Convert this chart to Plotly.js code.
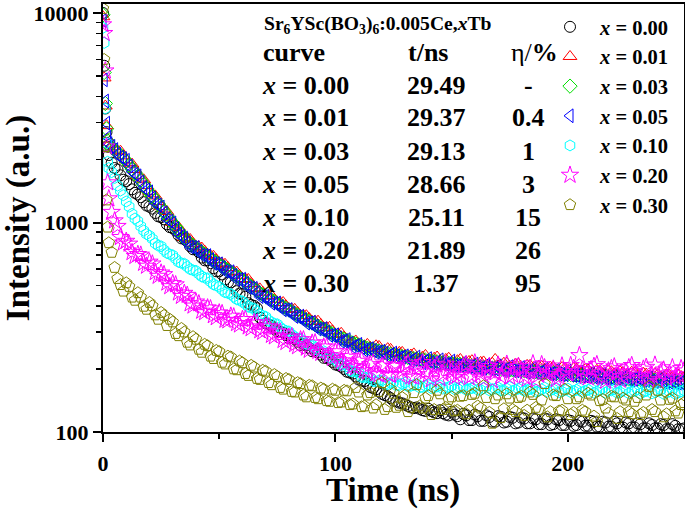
<!DOCTYPE html>
<html>
<head>
<meta charset="utf-8">
<script src="https://cdn.plot.ly/plotly-3.0.1.min.js"></script>
<style>html,body{margin:0;padding:0;background:#fff;}#chart{width:685px;height:509px;}</style>
</head>
<body>
<div id="chart"></div>
<script>
// ---------------- data ----------------
// main sampling grid
const time = [0,0.5,1,1.5,2,2.5,
  5,7.5,10,12.5,15,17.5,20,22.5,25,27.5,
  30,32.5,35,37.5,40,42.5,45,47.5,50,52.5,
  55,57.5,60,62.5,65,67.5,70,72.5,75,77.5,
  80,82.5,85,87.5,90,92.5,95,97.5,100,102.5,
  105,107.5,110,112.5,115,117.5,120,122.5,125,127.5,
  130,132.5,135,137.5,140,142.5,145,147.5,150,152.5,
  155,157.5,160,162.5,165,167.5,170,172.5,175,177.5,
  180,182.5,185,187.5,190,192.5,195,197.5,200,202.5,
  205,207.5,210,212.5,215,217.5,220,222.5,225,227.5,
  230,232.5,235,237.5,240,242.5,245,247.5,250];
// in-between samples
const timeB = [3.75,6.25,8.75,11.25,13.75,16.25,18.75,21.25,23.75,26.25,
  28.75,31.25,33.75,36.25,38.75,41.25,43.75,46.25,48.75,51.25,
  53.75,56.25,58.75,61.25,63.75,66.25,68.75,71.25,73.75,76.25,
  78.75,81.25,83.75,86.25,88.75,91.25,93.75,96.25,98.75,101.25,
  103.75,106.25,108.75,111.25,113.75,116.25,118.75,121.25,123.75,126.25,
  128.75,131.25,133.75,136.25,138.75,141.25,143.75,146.25,148.75,151.25,
  153.75,156.25,158.75,161.25,163.75,166.25,168.75,171.25,173.75,176.25,
  178.75,181.25,183.75,186.25,188.75,191.25,193.75,196.25,198.75,201.25,
  203.75,206.25,208.75,211.25,213.75,216.25,218.75,221.25,223.75,226.25,
  228.75,231.25,233.75,236.25,238.75,241.25,243.75,246.25,248.75];

const tbConc = ['0.00','0.01','0.03','0.05','0.10','0.20','0.30'];
const lifetimes = ['29.49','29.37','29.13','28.66','25.11','21.89','1.37'];
const efficiency = ['-','0.4','1','3','15','26','95'];

// x = 0.00
const i000 = [10000,5600,3500,2700,2300,2100,
  1820,1680,1575,1440,1360,1250,1190,1110,1060,980,
  940,870,835,770,745,680,660,605,585,535,
  518,470,455,412,400,352,330,322,302,298,
  280,278,260,259,243,240,226,222,210,205,
  194,190,178,175,164,160,152,148,141,138,
  135,131,131,127,129,124,127,121,125,119,
  122,114,121,113,120,112,119,111,118,110,
  117,110,116,109,116,108,115,108,114,107,
  113,107,113,106,112,106,112,105,111,105,
  110,104,110,104,109,103,109,103,104];
const i000b = [1930,1790,1600,1525,1385,1320,1205,1165,1070,1035,
  950,915,840,812,745,722,660,640,585,565,
  518,500,458,442,404,390,340,326,312,300,
  290,282,270,262,252,244,234,226,216,208,
  200,192,184,176,170,162,156,150,145,140,
  137,133,130,129,126,126,123,123,120,121,
  115,120,114,119,113,118,112,118,112,117,
  111,116,110,115,109,115,109,114,108,113,
  108,112,107,112,106,111,106,110,105,110,
  105,109,104,108,104,108,103,107,103];

// x = 0.01
const i001 = [9600,4900,3600,2900,2500,2350,
  2240,2190,1990,1900,1680,1600,1410,1340,1190,1130,
  1000,950,850,830,770,755,705,690,642,632,
  585,580,540,535,488,482,446,448,414,415,
  388,385,360,359,337,338,314,316,292,296,
  276,268,262,258,254,258,244,250,238,240,
  232,233,226,228,222,225,219,222,215,219,
  214,217,211,215,209,213,207,213,205,211,
  203,208,201,206,199,204,197,203,195,201,
  194,199,192,197,190,196,189,194,187,193,
  186,191,185,190,183,188,182,187,181];
const i001b = [2300,2200,2080,1930,1790,1630,1500,1370,1260,1160,
  1060,975,900,845,795,765,730,695,665,637,
  610,582,560,538,512,485,465,447,430,415,
  400,386,372,360,348,337,326,315,304,294,
  284,268,272,255,262,250,256,243,248,236,
  240,226,236,222,232,219,228,216,225,214,
  222,211,219,208,216,206,222,205,213,203,
  211,201,208,199,206,197,204,195,202,193,
  200,192,198,190,196,188,194,187,192,185,
  191,184,189,182,188,181,186,180,184];

// x = 0.03
const i003 = [9800,5200,3700,2800,2450,2330,
  2220,2100,1960,1800,1660,1520,1390,1280,1180,1080,
  995,915,845,795,757,722,690,660,632,605,
  580,555,533,508,484,460,443,427,411,396,
  382,368,355,343,331,320,309,299,289,281,
  273,266,260,254,249,245,241,237,234,231,
  228,225,223,221,219,217,215,213,212,210,
  209,207,206,205,203,202,201,200,198,197,
  196,195,194,193,192,191,190,189,188,187,
  187,186,185,184,183,182,182,181,180,179,
  179,178,177,177,176,175,175,174,173];
const i003b = [2280,2160,2030,1880,1730,1590,1450,1335,1230,1130,
  1035,955,880,820,776,740,706,675,646,618,
  592,567,544,520,496,472,451,435,419,403,
  389,375,361,349,337,325,314,304,294,285,
  277,270,263,257,251,247,243,239,235,232,
  229,227,224,222,220,218,216,214,213,211,
  210,208,207,206,204,203,202,201,199,198,
  197,196,195,194,193,192,191,190,189,188,
  187,186,185,184,183,182,182,181,180,179,
  179,178,177,177,176,175,175,174,173];

// x = 0.05
const i005 = [9200,4800,3800,2980,2550,2380,
  2230,2050,1980,1750,1670,1470,1400,1235,1185,1040,
  995,880,842,765,760,700,695,638,635,585,
  582,535,536,490,485,443,445,412,413,383,
  384,356,357,331,334,310,311,289,291,271,
  276,255,262,246,250,240,243,230,238,226,
  231,219,228,214,224,212,221,210,218,207,
  214,205,211,201,209,199,207,197,205,196,
  203,193,201,191,199,189,197,188,195,186,
  193,185,191,183,189,181,187,180,185,178,
  183,176,181,174,180,172,178,171,176];
const i005b = [2310,2120,2020,1860,1700,1560,1430,1310,1210,1110,
  1015,935,860,800,762,728,697,665,636,610,
  583,560,535,512,487,463,444,428,412,397,
  383,370,356,344,332,320,310,300,290,281,
  273,265,258,253,248,245,241,238,234,231,
  228,225,222,219,217,215,213,212,210,208,
  207,206,204,203,202,201,200,199,198,197,
  196,195,194,193,192,191,190,189,188,187,
  186,185,184,183,182,181,181,180,179,178,
  178,177,176,175,175,174,173,172,172];

// x = 0.10
const i010 = [8500,7200,3500,2400,1950,1820,
  1630,1420,1260,1100,1015,915,865,795,770,715,
  698,648,636,598,588,552,542,506,494,464,
  456,430,421,396,389,364,355,333,327,308,
  302,284,278,263,260,245,243,227,224,209,
  206,194,192,182,182,174,176,169,173,167,
  172,166,170,164,168,163,167,162,166,161,
  165,160,164,159,165,160,163,158,164,159,
  163,158,162,157,163,158,162,156,161,157,
  162,157,161,156,162,157,160,155,161,156,
  160,155,160,155,159,154,160,154,158];
const i010b = [1740,1500,1350,1190,1045,960,880,835,775,740,
  705,672,640,615,592,568,545,522,500,478,
  460,443,425,408,392,376,359,342,329,316,
  304,292,280,270,261,252,242,233,224,215,
  210,196,194,183,182,175,176,169,172,167,
  170,165,168,163,166,162,165,161,164,160,
  163,159,162,159,162,158,161,158,161,157,
  161,157,161,156,160,156,160,155,159,155,
  159,155,159,154,158,154,158,154,158,153,
  157,153,157,153,157,152,156,152,156];

// x = 0.20
const i020 = [8800,8000,5300,2300,1550,1300,
  1020,850,815,720,705,640,648,578,575,515,
  512,462,460,410,418,378,392,360,371,342,
  358,330,345,318,333,305,318,290,301,274,
  284,262,276,252,266,243,255,232,242,219,
  228,206,218,197,210,190,207,189,206,188,
  208,184,199,215,188,202,180,211,193,186,
  205,182,214,190,201,176,209,195,183,204,
  198,179,212,187,203,193,178,207,190,201,
  232,184,199,210,181,196,205,177,194,208,
  186,200,178,209,192,181,203,188,196];
const i020b = [1120,960,800,790,690,700,620,635,555,565,
  495,505,445,450,400,410,372,388,352,368,
  340,355,325,345,312,332,300,318,285,300,
  268,285,256,276,246,267,238,255,225,242,
  212,230,203,221,194,214,188,210,186,207,
  196,212,183,205,194,178,209,190,200,182,
  193,210,186,199,179,206,192,184,211,187,
  206,185,197,176,210,189,200,183,195,208,
  190,198,182,206,188,175,201,192,184,203,
  195,180,204,186,175,198,190,183,201];

// x = 0.30
const i030 = [10500,6000,2300,1280,950,800,
  610,505,515,440,462,398,415,362,372,322,
  335,288,300,260,277,240,258,224,242,211,
  228,198,214,186,204,178,195,168,184,160,
  178,155,170,147,166,144,160,140,158,139,
  157,136,155,133,154,135,172,132,153,134,
  150,131,168,130,149,128,152,131,147,127,
  149,127,153,130,146,110,150,129,145,125,
  148,127,151,128,170,125,149,127,144,124,
  147,125,150,112,143,123,147,125,142,122,
  146,124,165,125,142,122,145,123,138];
const i030b = [720,540,470,495,425,440,385,400,345,360,
  345,295,312,268,285,248,262,230,245,215,
  230,200,218,190,208,180,197,172,188,163,
  180,156,172,150,167,146,162,141,160,138,
  158,135,163,132,150,130,156,128,160,131,
  146,125,154,133,145,121,158,128,143,126,
  148,122,151,133,166,124,144,117,152,128,
  146,120,155,131,142,118,150,126,160,121,
  144,127,153,119,141,130,148,116,145,125,
  140,121,150,128,158,118,143,126,135];

const intensities = [i000, i001, i003, i005, i010, i020, i030];
const intensitiesB = [i000b, i001b, i003b, i005b, i010b, i020b, i030b];

// ---------------- style ----------------
const symbols = ['circle-open','triangle-up-open','diamond-open','triangle-left-open','hexagon-open','star-open','pentagon-open'];
const colors = ['#000000','#ff0000','#00e000','#0000ff','#00ffff','#ff00ff','#808000'];
const sizes = [11, 12, 11, 12, 11, 13, 12];
const FONT = 'Liberation Serif, "Times New Roman", Times, serif';

const L = 103, R = 1, T = 4, B = 77, W = 685, H = 509;
const PW = W - L - R, PH = H - T - B;
const px = v => (v - L) / PW;
const py = v => (H - B - v) / PH;

const traces = intensities.map((arr, k) => ({
  type: 'scatter', mode: 'markers',
  x: time.concat(timeB), y: arr.concat(intensitiesB[k]),
  name: '<i>x</i> = ' + tbConc[k],
  marker: {symbol: symbols[k], size: sizes[k], color: colors[k], line: {width: 1, color: colors[k]}}
}));

const ann = [];
const rowY0 = 85, rowStep = 33, headY = 52;
ann.push({text: 'Sr<sub>6</sub>YSc(BO<sub>3</sub>)<sub>6</sub>:0.005Ce,<i>x</i>Tb', x: px(262), y: py(25), xanchor: 'left', yanchor: 'middle', font: {size: 19.6}});
ann.push({text: 'curve', x: px(261), y: py(headY), xanchor: 'left', yanchor: 'middle', font: {size: 26}});
ann.push({text: 't/ns', x: px(406), y: py(headY), xanchor: 'left', yanchor: 'middle', font: {size: 26}});
ann.push({text: '<span style="font-weight:normal">η/</span>%', x: px(509), y: py(headY), xanchor: 'left', yanchor: 'middle', font: {size: 26}});
tbConc.forEach((c, i) => {
  const yy = py(rowY0 + rowStep * i);
  ann.push({text: '<i>x</i> = ' + c, x: px(260), y: yy, xanchor: 'left', yanchor: 'middle', font: {size: 26}});
  ann.push({text: lifetimes[i], x: px(436), y: yy, xanchor: 'center', yanchor: 'middle', font: {size: 26}});
  ann.push({text: efficiency[i], x: px(528), y: yy, xanchor: 'center', yanchor: 'middle', font: {size: 26}});
});
// x-axis title, placed as in the reference
ann.push({text: 'Time (ns)', x: px(393), y: py(490), xanchor: 'center', yanchor: 'middle', borderpad: 0, font: {size: 33}});
ann.forEach(a => { a.xref = 'paper'; a.yref = 'paper'; a.showarrow = false; a.font.family = FONT; a.font.weight = 'bold'; a.font.color = '#000'; });

const axisCommon = {
  showline: true, linewidth: 2, linecolor: '#000', mirror: true,
  ticks: 'outside', ticklen: 8, tickwidth: 2, tickcolor: '#000',
  showgrid: false, zeroline: false,
  tickfont: {size: 22, family: FONT, weight: 'bold', color: '#000'}
};

const layout = {
  width: W, height: H,
  margin: {l: L, r: R, t: T, b: B, pad: 0},
  paper_bgcolor: '#fff', plot_bgcolor: '#fff',
  font: {family: FONT, color: '#000', weight: 'bold'},
  separators: '.',
  showlegend: true,
  legend: {x: px(540), y: py(7), xanchor: 'left', yanchor: 'top', bgcolor: 'rgba(0,0,0,0)', borderwidth: 0,
           itemwidth: 50, tracegroupgap: 0, font: {size: 20.5, family: FONT, weight: 'bold', color: '#000'}},
  xaxis: Object.assign({}, axisCommon, {
    range: [0, 250], tickmode: 'linear', tick0: 0, dtick: 100, ticklabelstandoff: 3,
    minor: {ticks: 'outside', ticklen: 5, tickwidth: 2, tickcolor: '#000', dtick: 50, showgrid: false}
  }),
  yaxis: Object.assign({}, axisCommon, {
    type: 'log', range: [2, 4.043], tickmode: 'linear', tick0: 0, dtick: 1, exponentformat: 'none', tickformat: 'd',
    minor: {ticks: 'outside', ticklen: 5, tickwidth: 1.5, tickcolor: '#000', dtick: 'D1', showgrid: false},
    title: {text: 'Intensity (a.u.)', font: {size: 33, family: FONT, weight: 'bold', color: '#000'}}
  }),
  annotations: ann
};

Plotly.newPlot('chart', traces, layout, {displayModeBar: false, staticPlot: true});
</script>
</body>
</html>
